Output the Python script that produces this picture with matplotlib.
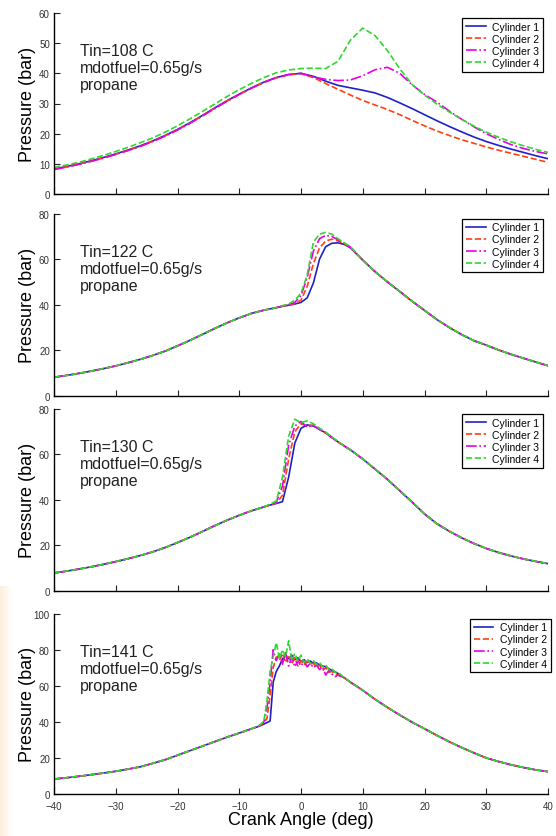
import matplotlib
matplotlib.use("Agg")
import matplotlib.pyplot as plt
import numpy as np
from matplotlib.colors import LinearSegmentedColormap

plt.rcParams['font.family'] = ['Liberation Sans', 'DejaVu Sans']

labels = ['Cylinder 1', 'Cylinder 2', 'Cylinder 3', 'Cylinder 4']
colors = ['#2020c8', '#ff4010', '#e600e6', '#2ed82e']
styles = ['-', '--', '-.', '--']
temps = ['Tin=108 C', 'Tin=122 C', 'Tin=130 C', 'Tin=141 C']
ymax = [60, 80, 80, 100]
ystep = [10, 20, 20, 20]

# ---- Tin = 108 C : one shared angle grid
ang_108 = list(range(-40, 41, 2))
p108_c1 = [8.3, 9.1, 10.0, 11.0, 12.1, 13.3, 14.6, 16.0, 17.6, 19.4, 21.4, 23.6, 26.0, 28.5,
           30.9, 33.1, 35.2, 37.1, 38.6, 39.6, 40.0,
           39.0, 37.4, 36.0, 35.2, 34.4, 33.5, 32.0, 30.2, 28.3, 26.3, 24.3, 22.4, 20.6, 18.9,
           17.4, 16.1, 14.9, 13.8, 12.7, 11.7]
p108_c2 = [8.2, 9.0, 9.9, 10.9, 12.0, 13.2, 14.5, 15.9, 17.5, 19.3, 21.3, 23.5, 25.9, 28.4,
           30.8, 33.0, 35.1, 37.0, 38.5, 39.5, 39.9,
           38.6, 36.6, 34.7, 32.8, 31.0, 29.5, 28.0, 26.3, 24.4, 22.6, 20.9, 19.4, 18.0, 16.8,
           15.6, 14.5, 13.5, 12.5, 11.5, 10.5]
p108_c3 = [8.1, 8.9, 9.8, 10.8, 11.9, 13.1, 14.4, 15.8, 17.4, 19.2, 21.2, 23.4, 25.8, 28.3,
           30.7, 33.0, 35.1, 37.0, 38.6, 39.6, 40.0,
           38.8, 38.0, 37.6, 37.8, 39.2, 41.2, 42.0, 40.0, 36.2, 33.0, 30.5, 27.5, 24.8, 22.3,
           20.0, 18.1, 16.4, 15.1, 14.1, 13.3]
p108_c4 = [8.8, 9.6, 10.5, 11.6, 12.8, 14.1, 15.5, 17.0, 18.6, 20.5, 22.6, 24.9, 27.3, 29.8,
           32.3, 34.6, 36.7, 38.6, 40.2, 41.1, 41.6,
           41.7, 41.6, 44.0, 51.0, 55.0, 52.5, 47.5, 41.5, 36.3, 32.8, 29.8, 27.2, 24.8, 22.5,
           20.5, 18.8, 17.3, 16.0, 14.8, 13.8]

# ---- Tin = 122 C : shared compression, per-cylinder ignition, shared expansion
head_ang_122 = list(range(-40, -3, 2))
head_122 = [8.1, 8.9, 9.8, 10.8, 11.9, 13.1, 14.5, 16.0, 17.7, 19.6, 21.9, 24.3, 26.9, 29.5,
            32.0, 34.2, 36.2, 37.6, 38.7]
mid_ang_122 = list(range(-3, 9))
p122_c1 = [39.3, 39.8, 40.3, 41.0, 43.0, 49.5, 60.0, 65.5, 67.0, 67.2, 66.5, 65.0]
p122_c2 = [39.4, 39.9, 40.5, 42.0, 48.0, 58.0, 65.0, 68.0, 68.8, 68.0, 66.8, 65.3]
p122_c3 = [39.4, 40.0, 41.0, 44.0, 52.0, 63.5, 69.0, 70.5, 70.0, 68.5, 67.0, 65.3]
p122_c4 = [39.6, 40.3, 42.0, 45.0, 53.0, 67.5, 71.0, 71.8, 71.0, 69.0, 67.2, 65.5]
tail_ang_122 = list(range(10, 41, 2))
tail_122 = [59.6, 54.5, 50.0, 45.8, 41.5, 37.5, 33.5, 30.0, 26.9, 24.2, 22.2, 20.1, 18.2,
            16.5, 14.8, 13.2]

# ---- Tin = 130 C
head_ang_130 = list(range(-40, -5, 2))
head_130 = [7.8, 8.6, 9.5, 10.5, 11.6, 12.8, 14.1, 15.5, 17.1, 19.0, 21.2, 23.5, 26.0, 28.6,
            31.0, 33.2, 35.2, 36.9]
mid_ang_130 = list(range(-5, 7))
p130_c1 = [37.7, 38.4, 39.2, 50.0, 65.0, 71.5, 73.0, 72.5, 71.0, 69.5, 67.5, 65.5]
p130_c2 = [37.8, 38.6, 42.0, 58.0, 70.0, 73.5, 72.5, 73.0, 71.2, 69.5, 67.5, 65.5]
p130_c3 = [37.9, 39.0, 46.0, 64.0, 72.5, 74.5, 72.0, 72.8, 71.0, 69.3, 67.4, 65.4]
p130_c4 = [38.1, 39.5, 50.0, 68.0, 75.5, 74.0, 74.8, 73.5, 71.5, 69.8, 67.7, 65.6]
tail_ang_130 = list(range(8, 41, 2))
tail_130 = [62.0, 58.0, 53.5, 49.0, 44.0, 39.0, 33.8, 29.5, 26.2, 23.3, 20.8, 18.6, 16.8,
            15.3, 14.0, 12.9, 11.9]

# ---- Tin = 141 C
head_ang_141 = list(range(-40, -7, 2))
head_141 = [8.3, 9.0, 9.8, 10.7, 11.6, 12.6, 13.8, 15.1, 17.0, 19.0, 21.5, 24.0, 26.5, 29.0,
            31.5, 33.8, 36.2]
mid_ang_141 = [-7, -6.5, -6, -5.5, -5, -4.5, -4, -3.5, -3, -2.5, -2, -1.5, -1, -0.5, 0,
               0.5, 1, 1.5, 2, 2.5, 3, 3.5, 4, 4.5, 5, 5.5, 6]
p141_c1 = [37.3, 38.0, 38.8, 39.6, 40.5, 62.0, 68.0, 71.0, 75.0, 76.5, 75.0, 77.0, 74.5, 75.5,
           73.5, 74.5, 73.0, 73.8, 72.5, 72.8, 71.5, 71.0, 70.5, 69.5, 68.5, 67.8, 66.8]
p141_c2 = [37.4, 38.3, 39.5, 42.0, 55.0, 70.0, 76.0, 74.0, 78.0, 73.0, 77.0, 72.0, 75.5, 71.0,
           74.0, 71.5, 73.5, 72.0, 72.5, 70.5, 71.5, 68.5, 70.0, 67.5, 68.0, 66.5, 66.0]
p141_c3 = [37.5, 38.5, 40.0, 48.0, 62.0, 80.0, 74.0, 78.0, 72.0, 79.0, 71.0, 76.0, 70.5, 74.0,
           71.0, 73.5, 70.5, 72.5, 70.0, 71.5, 69.0, 70.5, 66.0, 68.5, 66.5, 65.0, 66.0]
p141_c4 = [37.6, 38.8, 40.5, 52.0, 68.0, 76.0, 84.0, 75.0, 80.0, 76.0, 85.0, 74.0, 78.0, 73.5,
           77.0, 73.0, 75.0, 72.5, 74.0, 72.0, 73.0, 70.5, 71.5, 69.0, 69.5, 67.5, 67.5]
tail_ang_141 = [7, 8, 9, 10] + list(range(12, 41, 2))
tail_141 = [64.5, 62.0, 59.8, 57.5, 52.5, 48.0, 43.8, 39.8, 36.2, 32.5, 29.0, 25.8, 22.8,
            20.0, 18.0, 16.2, 14.7, 13.4, 12.4]


def join(head_ang, head, mid_ang, mid, tail_ang, tail):
    return np.concatenate([head_ang, mid_ang, tail_ang]), np.concatenate([head, mid, tail])


panels = [
    [(ang_108, p108_c1), (ang_108, p108_c2), (ang_108, p108_c3), (ang_108, p108_c4)],
    [join(head_ang_122, head_122, mid_ang_122, c, tail_ang_122, tail_122)
     for c in (p122_c1, p122_c2, p122_c3, p122_c4)],
    [join(head_ang_130, head_130, mid_ang_130, c, tail_ang_130, tail_130)
     for c in (p130_c1, p130_c2, p130_c3, p130_c4)],
    [join(head_ang_141, head_141, mid_ang_141, c, tail_ang_141, tail_141)
     for c in (p141_c1, p141_c2, p141_c3, p141_c4)],
]

W, H = 556, 837
fig = plt.figure(figsize=(W / 100, H / 100), dpi=100)

# faint orange band on the left edge (scan artefact)
band = fig.add_axes([0, 0, 12 / W, 250 / H])
cmap = LinearSegmentedColormap.from_list('band', ['#fdeedd', '#ffffff'])
band.imshow(np.linspace(0, 1, 50)[None, :], aspect='auto', cmap=cmap)
band.axis('off')

# axes boxes in pixels: (top, bottom)
boxes = [(14, 195), (214.7, 396.7), (410, 591.7), (614.7, 795)]
left, right = 54, 548

for k, (top, bot) in enumerate(boxes):
    ax = fig.add_axes([left / W, 1 - bot / H, (right - left) / W, (bot - top) / H])
    for (x, y), c, ls, lab in zip(panels[k], colors, styles, labels):
        ax.plot(x, y, color=c, ls=ls, lw=1.2, label=lab)
    ax.set_xlim(-40, 40)
    ax.set_ylim(0, ymax[k])
    ax.set_xticks(range(-40, 41, 10))
    ax.set_yticks(range(0, ymax[k] + 1, ystep[k]))
    for s in ('top', 'right'):
        ax.spines[s].set_visible(False)
    for s in ('left', 'bottom'):
        ax.spines[s].set_linewidth(1.0)
    ax.tick_params(direction='in', length=4, width=0.8, labelsize=7, pad=3,
                   colors='#222222', labelcolor='#333333')
    if k < 3:
        ax.tick_params(axis='x', labelbottom=False)
    else:
        ax.tick_params(axis='x', pad=5)
        ax.set_xlabel('Crank Angle (deg)', fontsize=13, labelpad=0)
    ax.set_ylabel('Pressure (bar)', fontsize=13)
    ax.yaxis.set_label_coords(-0.036, 0.5)

    hpx = bot - top
    ax.text(26 / (right - left), 1 - 30 / hpx,
            temps[k] + '\nmdotfuel=0.65g/s\npropane',
            transform=ax.transAxes, fontsize=11.5, va='top', ha='left',
            linespacing=1.17, color='#222222')

    lx = 1.006 if k == 3 else 0.99
    leg = ax.legend(loc='upper right', bbox_to_anchor=(lx, 1 - 5 / hpx), borderaxespad=0,
                    fontsize=7.5, handlelength=1.9, handletextpad=0.65, labelspacing=0.2,
                    borderpad=0.35, fancybox=False, framealpha=1)
    leg.get_frame().set_edgecolor('black')
    leg.get_frame().set_linewidth(0.9)

fig.savefig('out.png', dpi=100)
